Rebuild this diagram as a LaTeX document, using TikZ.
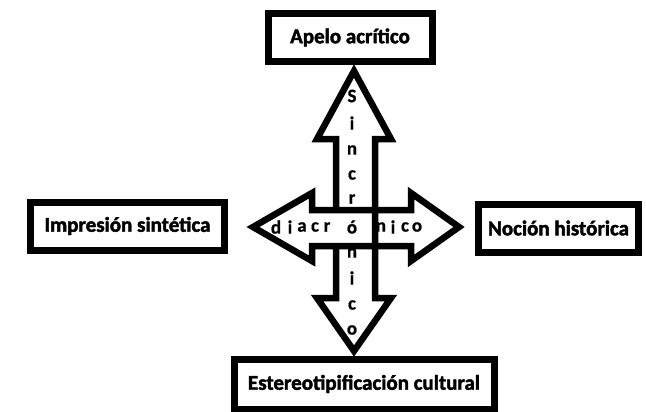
\documentclass[tikz,border=0pt]{standalone}
\usepackage{fontspec}
\setmainfont{Carlito}[BoldFeatures={FakeBold=2}]
\newfontfamily\ltrfont{Carlito}[UprightFont={* Bold},FakeBold=0.6]
\begin{document}
\begin{tikzpicture}[x=1pt,y=-1pt,
  box/.style={draw=black,line width=7pt,fill=white,minimum height=48pt,inner sep=0pt,font=\bfseries\fontsize{21}{23}\selectfont},
  arr/.style={draw=black,line width=6.5pt,line join=miter,miter limit=10},
  ltr/.style={inner sep=0pt,font=\ltrfont\fontsize{19}{20}\selectfont}]
\useasboundingbox[fill=white] (0,0) rectangle (646,412);
% boxes
\node[box,minimum width=164pt] (top) at (350,37.5) {Apelo acrítico};
\node[box,minimum width=194pt] (left) at (127.5,226) {Impresión sintética};
\node[box,minimum width=160pt] (right) at (558.5,228) {Noción histórica};
\node[box,minimum width=260pt,minimum height=50pt] (bottom) at (364,384) {Estereotipificación cultural};
% horizontal double arrow
\draw[arr] (312,210) -- (312,193) -- (253,227) -- (312,261) -- (312,246)
  -- (411,246) -- (411,261) -- (459,227) -- (411,193) -- (411,210) -- cycle;
% vertical double arrow
\draw[arr] (336,210) -- (336,139) -- (317,139) -- (354,71) -- (391,139) -- (375,139)
  -- (375,298) -- (391,298) -- (354,351) -- (317,298) -- (336,298) -- (336,246);
% vertical letters
\foreach \t/\y [count=\i] in {S/96,i/123,n/150,c/175,r/199,n/253,i/278,c/305,o/330}
  \node[ltr] (v\i) at (352,\y) {\t};
% horizontal letters
\foreach \t/\x [count=\i] in {d/276,i/290,a/302,c/315,r/327,ó/352,n/381,i/393,c/405,o/417}
  \node[ltr] (h\i) at (\x,227) {\t};
\end{tikzpicture}
\end{document}
